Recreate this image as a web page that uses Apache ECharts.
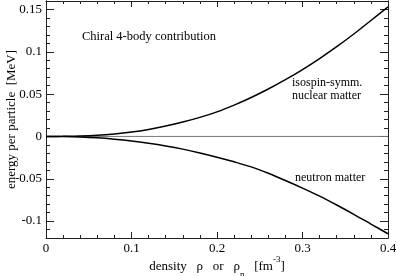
<!DOCTYPE html>
<html><head><meta charset="utf-8">
<script src="https://cdn.jsdelivr.net/npm/echarts@6/dist/echarts.min.js"></script>
<style>html,body{margin:0;padding:0;background:#fff}#c{width:396px;height:276px}</style>
</head><body><div id="c"></div>
<script>
const density = [0,0.02,0.04,0.06,0.08,0.10,0.12,0.14,0.16,0.18,0.20,0.22,0.24,0.26,0.28,0.30,0.32,0.34,0.36,0.38,0.40];
const symmMatter = [0,0.0001,0.0004,0.0013,0.0029,0.0052,0.0083,0.0122,0.017,0.0225,0.029,0.037,0.046,0.056,0.067,0.079,0.092,0.106,0.121,0.137,0.153];
const neutronMatter = [0,-0.0001,-0.0006,-0.0016,-0.0032,-0.0053,-0.008,-0.0112,-0.015,-0.0195,-0.0245,-0.030,-0.036,-0.0435,-0.052,-0.061,-0.0705,-0.081,-0.092,-0.1035,-0.115];
const yMajorTicks = [-0.1,-0.05,0,0.05,0.1,0.15];
const xTicks = [0,0.1,0.2,0.3,0.4];

const F = 'Liberation Serif';
const chart = echarts.init(document.getElementById('c'));
const pairs = (ys) => density.map((x,i)=>[x,ys[i]]);
const AX = '#222';
const yBase = {type:'value', min:-0.12, max:0.16, axisLine:{show:true,lineStyle:{color:AX}}, splitLine:{show:false}};
chart.setOption({
  animation:false,
  grid:{left:46, right:8, top:1, bottom:38, containLabel:false, outerBoundsMode:'none'},
  xAxis:[
    {type:'value', min:0, max:0.4, interval:0.1, position:'bottom',
     axisLine:{show:true,onZero:false,lineStyle:{color:AX}},
     axisTick:{show:true,inside:true,length:6,lineStyle:{color:AX}},
     minorTick:{show:true,splitNumber:5,length:3,lineStyle:{color:AX}},
     splitLine:{show:false},
     axisLabel:{fontFamily:F,fontSize:13,color:'#000',margin:4,formatter:v=>String(+v.toFixed(2))},
     name:'{a|density   ρ   or   ρ}{sub|n}{a|   [fm}{sup|-3}{a|]}', nameLocation:'middle', nameGap:17, nameMoveOverlap:false,
     nameTextStyle:{rich:{
       a:{fontFamily:F,fontSize:13,color:'#000',lineHeight:24,verticalAlign:'middle'},
       sub:{fontFamily:F,fontSize:9,color:'#000',lineHeight:24,verticalAlign:'bottom'},
       sup:{fontFamily:F,fontSize:9,color:'#000',lineHeight:24,verticalAlign:'top'}}}},
    {type:'value', min:0, max:0.4, interval:0.1, position:'top',
     axisLine:{show:true,onZero:false,lineStyle:{color:AX}},
     axisTick:{show:true,inside:true,length:6,lineStyle:{color:AX}},
     minorTick:{show:true,splitNumber:5,length:3,lineStyle:{color:AX}},
     splitLine:{show:false}, axisLabel:{show:false}}
  ],
  yAxis:[
    Object.assign({}, yBase, {position:'left',
      axisTick:{show:true,inside:true,length:8,customValues:yMajorTicks,lineStyle:{color:AX}},
      axisLabel:{fontFamily:F,fontSize:13,color:'#000',margin:4,customValues:yMajorTicks,formatter:v=>String(+v.toFixed(2))},
      name:'energy per particle  [MeV]', nameLocation:'middle', nameGap:28, nameMoveOverlap:false,
      nameTextStyle:{fontFamily:F,fontSize:13,color:'#000'}}),
    Object.assign({}, yBase, {position:'left', interval:0.01,
      axisTick:{show:true,inside:true,length:4,lineStyle:{color:AX}}, axisLabel:{show:false}}),
    Object.assign({}, yBase, {position:'right',
      axisTick:{show:true,inside:true,length:8,customValues:yMajorTicks,lineStyle:{color:AX}},
      axisLabel:{show:false,customValues:yMajorTicks}}),
    Object.assign({}, yBase, {position:'right', interval:0.01,
      axisTick:{show:true,inside:true,length:4,lineStyle:{color:AX}}, axisLabel:{show:false}})
  ],
  series:[
    {type:'line', data:[[0,0],[0.4,0]], symbol:'none', lineStyle:{color:'#777',width:1}, silent:true},
    {type:'line', data:pairs(symmMatter), symbol:'none', smooth:0.3, lineStyle:{color:'#000',width:1.5}},
    {type:'line', data:pairs(neutronMatter), symbol:'none', smooth:0.3, lineStyle:{color:'#000',width:1.5}}
  ],
  graphic:[
    {type:'text', left:82, top:30, style:{text:'Chiral 4-body contribution', font:'12.5px "Liberation Serif"', fill:'#000'}},
    {type:'text', left:292, top:76, style:{text:'isospin-symm.\nnuclear matter', font:'12px "Liberation Serif"', fill:'#000', align:'center', lineHeight:13}},
    {type:'text', left:295, top:172, style:{text:'neutron matter', font:'12px "Liberation Serif"', fill:'#000'}}
  ]
});
</script></body></html>
